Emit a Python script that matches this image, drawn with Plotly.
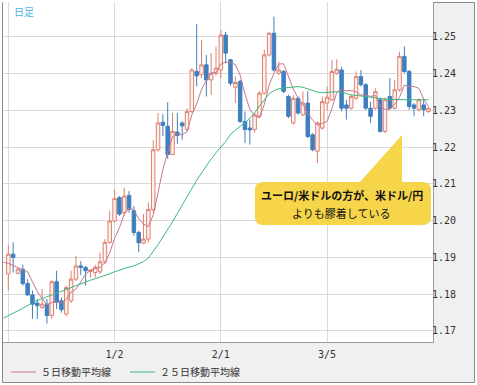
import pandas as pd
import plotly.graph_objects as go

# ---------------- data (EUR/USD daily) ----------------
dates = [d.strftime("%Y-%m-%d") for d in pd.bdate_range("2017-11-29", "2018-04-03")
         if d.strftime("%Y-%m-%d") != "2018-01-01"]
candle_dates = dates[1:]

opens = [1.1855, 1.1909, 1.1857, 1.1868, 1.1829, 1.1798, 1.1776, 1.1764, 1.1773, 1.1742,
         1.1834, 1.1782, 1.1746, 1.1782, 1.1841, 1.1877, 1.1873, 1.1862, 1.1859, 1.1861,
         1.1888, 1.1941, 1.1999, 1.2063, 1.2022, 1.2069, 1.2027, 1.1968, 1.1939, 1.1950,
         1.2030, 1.2193, 1.2268, 1.2257, 1.2180, 1.2241, 1.2266, 1.2248, 1.2297, 1.2406,
         1.2397, 1.2424, 1.2383, 1.2401, 1.2410, 1.2505, 1.2438, 1.2363, 1.2379, 1.2270,
         1.2252, 1.2248, 1.2284, 1.2347, 1.2451, 1.2510, 1.2401, 1.2406, 1.2338, 1.2266,
         1.2333, 1.2288, 1.2320, 1.2234, 1.2189, 1.2252, 1.2320, 1.2329, 1.2401, 1.2410,
         1.2315, 1.2306, 1.2333, 1.2392, 1.2370, 1.2306, 1.2306, 1.2329, 1.2243, 1.2338,
         1.2306, 1.2356, 1.2447, 1.2406, 1.2315, 1.2302, 1.2315, 1.2297]
highs = [1.1932, 1.1941, 1.1872, 1.1880, 1.1841, 1.1810, 1.1787, 1.1814, 1.1787, 1.1838,
         1.1864, 1.1791, 1.1823, 1.1864, 1.1904, 1.1890, 1.1877, 1.1868, 1.1880, 1.1913,
         1.1950, 1.2027, 1.2085, 1.2067, 1.2090, 1.2081, 1.2040, 1.1973, 1.2018, 1.2050,
         1.2219, 1.2293, 1.2290, 1.2322, 1.2293, 1.2293, 1.2270, 1.2306, 1.2415, 1.2535,
         1.2492, 1.2451, 1.2456, 1.2474, 1.2519, 1.2514, 1.2440, 1.2392, 1.2383, 1.2297,
         1.2275, 1.2293, 1.2352, 1.2465, 1.2514, 1.2555, 1.2433, 1.2410, 1.2343, 1.2342,
         1.2338, 1.2352, 1.2352, 1.2238, 1.2270, 1.2338, 1.2365, 1.2438, 1.2439, 1.2419,
         1.2329, 1.2343, 1.2406, 1.2410, 1.2374, 1.2324, 1.2360, 1.2335, 1.2335, 1.2388,
         1.2383, 1.2460, 1.2474, 1.2410, 1.2320, 1.2333, 1.2329, 1.2310]
lows = [1.1810, 1.1859, 1.1854, 1.1823, 1.1796, 1.1733, 1.1733, 1.1760, 1.1720, 1.1733,
        1.1760, 1.1750, 1.1740, 1.1776, 1.1836, 1.1852, 1.1823, 1.1845, 1.1845, 1.1855,
        1.1882, 1.1937, 1.1995, 1.2013, 1.2013, 1.2022, 1.1959, 1.1914, 1.1936, 1.1941,
        1.2022, 1.2188, 1.2230, 1.2168, 1.2178, 1.2209, 1.2220, 1.2243, 1.2293, 1.2365,
        1.2388, 1.2338, 1.2342, 1.2395, 1.2388, 1.2428, 1.2367, 1.2320, 1.2266, 1.2211,
        1.2207, 1.2239, 1.2279, 1.2343, 1.2447, 1.2406, 1.2397, 1.2347, 1.2279, 1.2261,
        1.2288, 1.2284, 1.2225, 1.2189, 1.2157, 1.2248, 1.2300, 1.2325, 1.2397, 1.2297,
        1.2275, 1.2302, 1.2329, 1.2365, 1.2302, 1.2266, 1.2302, 1.2240, 1.2238, 1.2302,
        1.2302, 1.2351, 1.2401, 1.2302, 1.2284, 1.2297, 1.2284, 1.2293]
closes = [1.1909, 1.1900, 1.1868, 1.1829, 1.1798, 1.1773, 1.1769, 1.1773, 1.1742, 1.1834,
          1.1778, 1.1758, 1.1818, 1.1841, 1.1877, 1.1873, 1.1864, 1.1866, 1.1873, 1.1888,
          1.1941, 1.1999, 1.2060, 1.2018, 1.2067, 1.2031, 1.1968, 1.1940, 1.1950, 1.2031,
          1.2193, 1.2266, 1.2259, 1.2180, 1.2243, 1.2232, 1.2258, 1.2297, 1.2410, 1.2394,
          1.2424, 1.2383, 1.2401, 1.2415, 1.2505, 1.2456, 1.2374, 1.2376, 1.2270, 1.2248,
          1.2247, 1.2288, 1.2347, 1.2451, 1.2510, 1.2410, 1.2410, 1.2352, 1.2284, 1.2333,
          1.2293, 1.2320, 1.2229, 1.2193, 1.2266, 1.2324, 1.2336, 1.2406, 1.2412, 1.2306,
          1.2306, 1.2338, 1.2392, 1.2370, 1.2306, 1.2284, 1.2351, 1.2243, 1.2329, 1.2306,
          1.2356, 1.2447, 1.2406, 1.2311, 1.2306, 1.2329, 1.2302, 1.2306]

ma5 = [1.1887, 1.1884, 1.1878, 1.1872, 1.1866, 1.1861, 1.1834, 1.1807, 1.1788, 1.1771,
       1.1778, 1.1779, 1.1777, 1.1786, 1.1806, 1.1814, 1.1833, 1.1855, 1.1864, 1.1871,
       1.1873, 1.1886, 1.1913, 1.1952, 1.1981, 1.2017, 1.2035, 1.2029, 1.2005, 1.1991,
       1.1984, 1.2016, 1.2076, 1.2140, 1.2186, 1.2228, 1.2236, 1.2234, 1.2242, 1.2288,
       1.2318, 1.2357, 1.2382, 1.2402, 1.2403, 1.2426, 1.2432, 1.2430, 1.2425, 1.2396,
       1.2345, 1.2303, 1.2286, 1.2280, 1.2316, 1.2369, 1.2401, 1.2426, 1.2427, 1.2393,
       1.2358, 1.2334, 1.2316, 1.2292, 1.2274, 1.2260, 1.2266, 1.2270, 1.2305, 1.2349,
       1.2357, 1.2353, 1.2354, 1.2351, 1.2342, 1.2342, 1.2338, 1.2341, 1.2311, 1.2303,
       1.2303, 1.2317, 1.2336, 1.2369, 1.2365, 1.2365, 1.2360, 1.2331, 1.2311]
ma25 = [1.1735, 1.1741, 1.1748, 1.1755, 1.1762, 1.1770, 1.1777, 1.1783, 1.1788, 1.1794,
        1.1800, 1.1805, 1.1810, 1.1815, 1.1819, 1.1823, 1.1828, 1.1833, 1.1838, 1.1842,
        1.1846, 1.1851, 1.1856, 1.1861, 1.1866, 1.1870, 1.1874, 1.1877, 1.1882, 1.1889,
        1.1898, 1.1915, 1.1935, 1.1955, 1.1975, 1.1997, 1.2020, 1.2043, 1.2066, 1.2088,
        1.2110, 1.2130, 1.2150, 1.2168, 1.2185, 1.2201, 1.2215, 1.2235, 1.2247, 1.2257,
        1.2266, 1.2280, 1.2293, 1.2312, 1.2330, 1.2345, 1.2354, 1.2359, 1.2361, 1.2362,
        1.2363, 1.2365, 1.2363, 1.2358, 1.2353, 1.2350, 1.2348, 1.2348, 1.2350, 1.2351,
        1.2350, 1.2346, 1.2342, 1.2341, 1.2340, 1.2338, 1.2336, 1.2334, 1.2332, 1.2330,
        1.2330, 1.2330, 1.2329, 1.2329, 1.2329, 1.2329, 1.2329, 1.2329, 1.2329]

grid_dates = ["2017-11-30", "2018-01-02", "2018-02-01", "2018-03-05"]
grid_labels = ["", "1/2", "2/1", "3/5"]
y_ticks = [1.17, 1.18, 1.19, 1.20, 1.21, 1.22, 1.23, 1.24, 1.25]

# ---------------- figure ----------------
W, H = 477, 385
L, R, T, B = 3, 433, 2, 342


def px(x):
    return (x - L) / (R - L)


def py(y):
    return (B - y) / (B - T)


fig = go.Figure()
fig.add_trace(go.Candlestick(
    x=candle_dates, open=opens, high=highs, low=lows, close=closes,
    increasing=dict(line=dict(color="#e0806e", width=1), fillcolor="#fdf1ee"),
    decreasing=dict(line=dict(color="#3f7fbf", width=1), fillcolor="#3f7fbf"),
    whiskerwidth=0, showlegend=False, hoverinfo="skip"))
fig.add_trace(go.Scatter(x=dates, y=ma5, mode="lines", name="５日移動平均線",
                         line=dict(color="#c9768f", width=1), legend="legend"))
fig.add_trace(go.Scatter(x=dates, y=ma25, mode="lines", name="２５日移動平均線",
                         line=dict(color="#3cb87c", width=1), legend="legend2"))

# callout bubble
path = "M {:.5f},{:.5f} ".format(px(263), py(182))
path += "L {:.5f},{:.5f} ".format(px(360), py(182))
path += "L {:.5f},{:.5f} ".format(px(402), py(135))
path += "L {:.5f},{:.5f} ".format(px(402), py(182))
path += "L {:.5f},{:.5f} ".format(px(423), py(182))
path += "Q {:.5f},{:.5f} {:.5f},{:.5f} ".format(px(431), py(182), px(431), py(190))
path += "L {:.5f},{:.5f} ".format(px(431), py(217))
path += "Q {:.5f},{:.5f} {:.5f},{:.5f} ".format(px(431), py(225), px(423), py(225))
path += "L {:.5f},{:.5f} ".format(px(263), py(225))
path += "Q {:.5f},{:.5f} {:.5f},{:.5f} ".format(px(255), py(225), px(255), py(217))
path += "L {:.5f},{:.5f} ".format(px(255), py(190))
path += "Q {:.5f},{:.5f} {:.5f},{:.5f} Z".format(px(255), py(182), px(263), py(182))

shapes = [
    # outer gray frame
    dict(type="rect", xref="paper", yref="paper", layer="below",
         x0=px(2.5), x1=px(474.5), y0=py(382.5), y1=py(2.5),
         fillcolor="#f0f0f0", line=dict(color="#8a8a8a", width=1)),
    # white plotting area
    dict(type="rect", xref="paper", yref="paper", layer="below",
         x0=0, x1=1, y0=0, y1=1, fillcolor="white", line=dict(width=0)),
    dict(type="path", xref="paper", yref="paper", path=path, layer="above",
         fillcolor="#f6d54a", line=dict(width=0)),
]

annotations = [
    dict(text="日足", xref="paper", yref="paper", x=px(12), y=py(11),
         xanchor="left", yanchor="middle", showarrow=False,
         font=dict(family="Noto Sans CJK JP", size=10, color="#4db4e6")),
    dict(text="<b>ユーロ/米ドルの方が、米ドル/円</b>", xref="paper", yref="paper",
         x=px(342), y=py(195), xanchor="center", yanchor="middle", showarrow=False,
         font=dict(family="Noto Sans CJK JP", size=11, color="#111111")),
    dict(text="よりも膠着している", xref="paper", yref="paper",
         x=px(341), y=py(213), xanchor="center", yanchor="middle", showarrow=False,
         font=dict(family="Noto Sans CJK JP", size=11, color="#111111")),
]

legend_font = dict(family="Noto Sans CJK JP", size=10, color="#333333")

fig.update_layout(
    width=W, height=H,
    margin=dict(l=L, r=W - R, t=T, b=H - B, pad=0, autoexpand=False),
    paper_bgcolor="white", plot_bgcolor="rgba(0,0,0,0)",
    boxgap=0.15, boxgroupgap=0.15,
    shapes=shapes, annotations=annotations,
    showlegend=True, hovermode=False,
    legend=dict(orientation="h", xref="container", yref="container",
                x=11 / W, y=(H - 372) / H, xanchor="left", yanchor="middle",
                bgcolor="rgba(0,0,0,0)", font=legend_font, indentation=-10, itemclick=False),
    legend2=dict(orientation="h", xref="container", yref="container",
                 x=130 / W, y=(H - 372) / H, xanchor="left", yanchor="middle",
                 bgcolor="rgba(0,0,0,0)", font=legend_font, indentation=-10, itemclick=False),
    xaxis=dict(type="category", categoryorder="array", categoryarray=dates,
               range=[-0.1, 88.93], rangeslider=dict(visible=False),
               tickmode="array", tickvals=grid_dates, ticktext=grid_labels,
               showgrid=True, gridcolor="#d9d9d9", gridwidth=1,
               showline=True, linecolor="#9a9a9a", linewidth=1, mirror=False,
               ticks="", zeroline=False, automargin=False, ticklabelstandoff=3,
               tickfont=dict(family="DejaVu Sans Mono", size=10, color="#333333")),
    yaxis=dict(side="right", range=[1.167, 1.2595], tickmode="array", tickvals=y_ticks,
               tickformat=".2f", showgrid=True, gridcolor="#d9d9d9", gridwidth=1,
               showline=True, linecolor="#9a9a9a", linewidth=1, ticks="", ticklen=0,
               ticklabelstandoff=-4, zeroline=False, automargin=False,
               tickfont=dict(family="DejaVu Sans Mono", size=10, color="#333333")),
)

fig.write_html("out.html", config={"displayModeBar": False, "staticPlot": False},
               post_script="document.body.style.margin='0';")
